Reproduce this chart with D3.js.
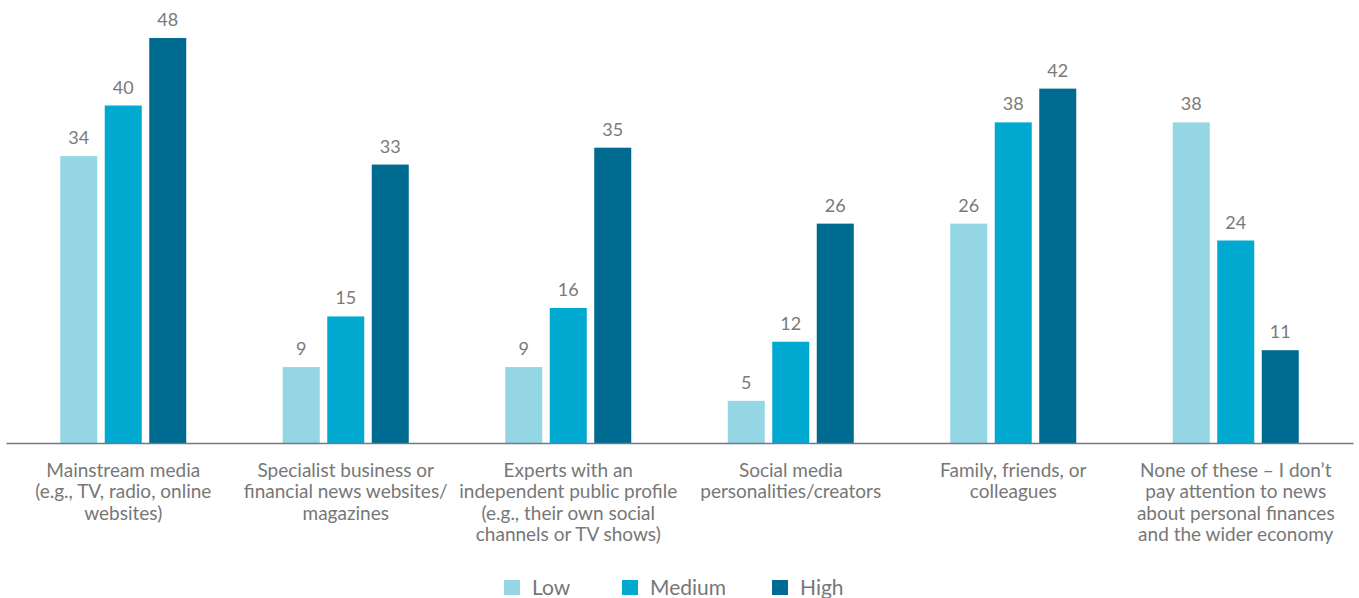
<!DOCTYPE html>
<html>
<head>
<meta charset="utf-8">
<script src="https://cdn.jsdelivr.net/npm/d3@7"></script>
<style>
  body { margin: 0; background: #fff; }
  svg { display: block; font-family: Lato, "Open Sans", sans-serif; }
</style>
</head>
<body>
<div id="container"></div>
<script>
/* CONSTANTS AND GLOBALS */
const width = 1359,
  height = 598;

/* DATA */
const categories = [
  ["Mainstream media", "(e.g., TV, radio, online", "websites)"],
  ["Specialist business or", "financial news websites/", "magazines"],
  ["Experts with an", "independent public profile", "(e.g., their own social", "channels or TV shows)"],
  ["Social media", "personalities/creators"],
  ["Family, friends, or", "colleagues"],
  ["None of these \u2013 I don\u2019t", "pay attention to news", "about personal finances", "and the wider economy"]
];
const series = ["Low", "Medium", "High"];
const lowValues = [34, 9, 9, 5, 26, 38];
const mediumValues = [40, 15, 16, 12, 38, 24];
const highValues = [48, 33, 35, 26, 42, 11];
const colors = ["#94d6e3", "#00a9d0", "#006b91"];

const data = categories.map((c, i) => ({
  key: i,
  lines: c,
  values: [
    { series: "Low", value: lowValues[i] },
    { series: "Medium", value: mediumValues[i] },
    { series: "High", value: highValues[i] }
  ]
}));

// SCALES
const axisLeftX = 6, axisRightX = 1353, baseY = 443;
const step = 222.5, groupW = 126;
const pInner = 1 - groupW / step;
const pOuter = ((axisRightX - axisLeftX) / step - categories.length + pInner) / 2;

const x0 = d3.scaleBand()
  .domain(data.map(d => d.key))
  .range([axisLeftX, axisRightX])
  .paddingInner(pInner)
  .paddingOuter(pOuter);

const x1 = d3.scaleBand()
  .domain(series)
  .range([0, x0.bandwidth()])
  .paddingInner(7.5 / 44.5);

const y = d3.scaleLinear()
  .domain([0, 48])
  .range([baseY, 38]);

const color = d3.scaleOrdinal().domain(series).range(colors);

// SVG
const svg = d3.select("#container")
  .append("svg")
  .attr("width", width)
  .attr("height", height);

// BARS
const groups = svg.append("g")
  .selectAll("g")
  .data(data)
  .join("g")
  .attr("transform", d => `translate(${x0(d.key)},0)`);

groups.selectAll("rect")
  .data(d => d.values)
  .join("rect")
  .attr("x", d => x1(d.series))
  .attr("y", d => y(d.value))
  .attr("width", x1.bandwidth())
  .attr("height", d => y(0) - y(d.value))
  .attr("fill", d => color(d.series));

groups.selectAll("text.value")
  .data(d => d.values)
  .join("text")
  .attr("class", "value")
  .attr("x", d => x1(d.series) + x1.bandwidth() / 2)
  .attr("y", d => y(d.value) - 12)
  .attr("text-anchor", "middle")
  .attr("fill", "#7a7a7a")
  .style("font-size", "18px")
  .text(d => d.value);

// X AXIS
const xAxis = d3.axisBottom(x0).tickSize(0).tickSizeOuter(0).tickFormat("");
const xAxisGroup = svg.append("g")
  .attr("transform", `translate(0, ${baseY})`)
  .attr("font-family", null)
  .call(xAxis)
  .attr("font-family", "Lato, 'Open Sans', sans-serif");
xAxisGroup.select(".domain")
  .attr("stroke", "#707a87")
  .attr("stroke-width", 1.5);

xAxisGroup.selectAll(".tick text")
  .attr("fill", "#777")
  .style("font-size", "19px")
  .attr("y", 0)
  .attr("dy", null)
  .each(function(k) {
    const t = d3.select(this);
    data[k].lines.forEach((line, i) => {
      t.append("tspan")
        .attr("x", 0)
        .attr("y", 33.5 + i * 21.5)
        .text(line);
    });
  });

// LEGEND
const legendX = { Low: 504, Medium: 622, High: 772 };
const legend = svg.append("g")
  .selectAll("g")
  .data(series)
  .join("g")
  .attr("transform", d => `translate(${legendX[d]}, 580)`);

legend.append("rect")
  .attr("width", 16)
  .attr("height", 15)
  .attr("fill", d => color(d));

legend.append("text")
  .attr("x", 28)
  .attr("y", 15)
  .attr("fill", "#777")
  .style("font-size", "21px")
  .text(d => d);
</script>
</body>
</html>
